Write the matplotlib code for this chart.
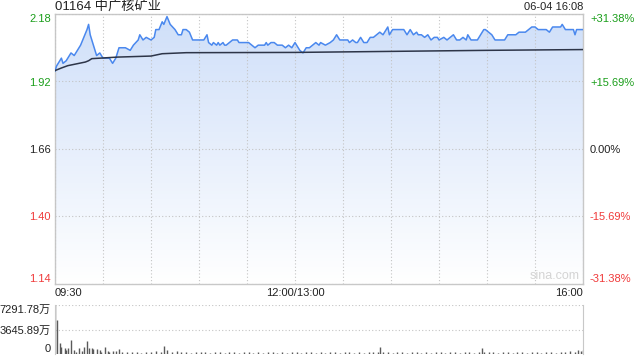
import numpy as np
import matplotlib
matplotlib.use("Agg")
import matplotlib.pyplot as plt
from matplotlib.colors import LinearSegmentedColormap

plt.rcParams['font.family'] = ['Liberation Sans', 'Noto Sans CJK SC', 'DejaVu Sans']

# ---------------- data ----------------
title = "01164 中广核矿业"
stamp = "06-04 16:08"
prev_close = 1.66

price_times = [
    "09:30", "09:31", "09:34", "09:35", "09:37", "09:40", "09:42", "09:44", "09:46", "09:48",
    "09:50", "09:51", "09:52", "09:54", "09:55", "09:56", "09:58", "10:00", "10:04", "10:06",
    "10:08", "10:10", "10:12", "10:14", "10:17", "10:19", "10:22", "10:23", "10:25", "10:27",
    "10:30", "10:32", "10:33", "10:35", "10:37", "10:38", "10:40", "10:42", "10:45", "10:47",
    "10:49", "10:50", "10:52", "10:54", "10:56", "11:00", "11:03", "11:05", "11:06", "11:08",
    "11:09", "11:11", "11:12", "11:13", "11:15", "11:16", "11:17", "11:19", "11:21", "11:24",
    "11:25", "11:31", "11:33", "11:35", "11:37", "11:41", "11:42", "11:43", "11:45", "11:47",
    "11:49", "11:52", "11:54", "11:56", "11:58", "12:00",
    "13:01", "13:03", "13:05", "13:07", "13:09", "13:11", "13:13", "13:15", "13:16", "13:19",
    "13:22", "13:24", "13:26", "13:28", "13:33", "13:34", "13:36", "13:38", "13:39", "13:41",
    "13:43", "13:45", "13:47", "13:49", "13:51", "13:53", "13:55", "13:57", "13:58", "13:59",
    "14:01", "14:03", "14:08", "14:10", "14:12", "14:14", "14:16", "14:17", "14:19", "14:21",
    "14:23", "14:25", "14:27", "14:29", "14:30", "14:33", "14:35", "14:37", "14:39", "14:41",
    "14:43", "14:45", "14:47", "14:48", "14:50", "14:54", "14:56", "14:58", "14:59", "15:01",
    "15:03", "15:05", "15:11", "15:13", "15:15", "15:18", "15:20", "15:22", "15:24", "15:26",
    "15:28", "15:30", "15:32", "15:37", "15:39", "15:41", "15:46", "15:47", "15:49", "15:54",
    "15:55", "15:56", "16:00",
]
price_values = [
    1.96, 1.98, 2.01, 1.99, 2.00, 2.03, 2.02, 2.04, 2.06, 2.09,
    2.12, 2.14, 2.10, 2.06, 2.04, 2.02, 2.03, 2.01, 2.01, 1.99,
    2.01, 2.05, 2.05, 2.05, 2.04, 2.06, 2.08, 2.10, 2.08, 2.09,
    2.08, 2.09, 2.12, 2.12, 2.15, 2.14, 2.17, 2.14, 2.12, 2.10,
    2.10, 2.12, 2.12, 2.11, 2.08, 2.08, 2.08, 2.10, 2.07, 2.06,
    2.07, 2.06, 2.07, 2.06, 2.07, 2.06, 2.06, 2.07, 2.08, 2.08,
    2.07, 2.07, 2.06, 2.05, 2.06, 2.06, 2.07, 2.06, 2.07, 2.07,
    2.06, 2.06, 2.05, 2.06, 2.05, 2.07,
    2.06, 2.04, 2.03, 2.05, 2.05, 2.06, 2.07, 2.06, 2.07, 2.06,
    2.07, 2.08, 2.10, 2.08, 2.08, 2.07, 2.08, 2.07, 2.07, 2.09,
    2.07, 2.07, 2.09, 2.09, 2.10, 2.11, 2.10, 2.12, 2.13, 2.10,
    2.12, 2.12, 2.12, 2.10, 2.12, 2.10, 2.11, 2.10, 2.10, 2.09,
    2.10, 2.08, 2.09, 2.09, 2.08, 2.09, 2.08, 2.09, 2.10, 2.08,
    2.08, 2.09, 2.08, 2.10, 2.08, 2.08, 2.10, 2.12, 2.12, 2.11,
    2.10, 2.08, 2.08, 2.10, 2.10, 2.10, 2.11, 2.11, 2.11, 2.12,
    2.13, 2.13, 2.12, 2.12, 2.11, 2.13, 2.13, 2.14, 2.12, 2.12,
    2.10, 2.12, 2.12,
]

avg_times = ["09:30", "09:34", "09:38", "09:49", "09:51", "09:53", "10:09", "10:30",
             "10:37", "10:52", "12:00", "14:00", "15:00", "16:00"]
avg_values = [1.962, 1.972, 1.981, 1.995, 2.000, 2.008, 2.014, 2.018,
              2.027, 2.031, 2.032, 2.036, 2.040, 2.043]

vol_times = [
    "09:30", "09:31", "09:33", "09:34", "09:36", "09:37", "09:38", "09:40", "09:42", "09:43",
    "09:45", "09:47", "09:48", "09:50", "09:51", "09:53", "09:54", "09:56", "09:58", "09:59",
    "10:01", "10:03", "10:04", "10:06", "10:08", "10:10", "10:12", "10:15", "10:18", "10:21",
    "10:24", "10:27", "10:30", "10:33", "10:36", "10:38", "10:40", "10:43", "10:46", "10:49",
    "10:52", "10:55", "10:58", "11:01", "11:04", "11:07", "11:10", "11:13", "11:16", "11:19",
    "11:22", "11:25", "11:28", "11:31", "11:34", "11:37", "11:40", "11:43", "11:46", "11:49",
    "11:52", "11:55", "11:58",
    "13:01", "13:04", "13:07", "13:10", "13:13", "13:16", "13:19", "13:22", "13:25", "13:28",
    "13:31", "13:34", "13:37", "13:40", "13:43", "13:46", "13:49", "13:52", "13:53", "13:55",
    "13:58", "14:01", "14:04", "14:07", "14:10", "14:13", "14:16", "14:19", "14:22", "14:25",
    "14:28", "14:31", "14:34", "14:37", "14:40", "14:43", "14:46", "14:49", "14:52", "14:55",
    "14:57", "14:58", "15:01", "15:04", "15:07", "15:10", "15:13", "15:16", "15:19", "15:22",
    "15:25", "15:28", "15:31", "15:34", "15:37", "15:40", "15:43", "15:46", "15:49", "15:52",
    "15:55", "15:57", "15:59", "16:00",
]
vol_values = [
    7291.78, 5060, 1690, 1090, 840, 595, 840, 2080, 595, 350,
    840, 500, 1090, 1930, 840, 840, 740, 740, 595, 350,
    1090, 500, 350, 500, 500, 740, 350, 300, 250, 350,
    200, 300, 250, 400, 300, 1190, 600, 350, 450, 300,
    250, 200, 350, 250, 300, 200, 250, 300, 200, 250,
    350, 200, 250, 300, 200, 250, 200, 300, 250, 200,
    250, 200, 300,
    250, 200, 300, 250, 200, 350, 200, 250, 300, 200,
    250, 300, 200, 250, 200, 300, 250, 350, 1000, 300,
    250, 200, 300, 250, 200, 250, 300, 200, 250, 200,
    300, 250, 200, 300, 250, 200, 250, 300, 200, 250,
    840, 350, 300, 250, 200, 300, 250, 200, 300, 250,
    200, 250, 300, 200, 250, 300, 200, 350, 300, 450,
    350, 550, 400, 600,
]
vol_max = 7291.78
vol_tick_values = [0, 3645.89, 7291.78]
vol_tick_labels = ["0", "3645.89万", "7291.78万"]

y_tick_values = [1.14, 1.40, 1.66, 1.92, 2.18]
y_pct_labels = ["-31.38%", "-15.69%", "0.00%", "+15.69%", "+31.38%"]
x_tick_labels = {"09:30": "09:30", "12:00": "12:00/13:00", "16:00": "16:00"}
grid_times = ["09:30", "10:00", "10:30", "11:00", "11:30", "12:00", "13:30",
              "14:00", "14:30", "15:00", "15:30", "16:00"]


def tmin(s):
    h, m = map(int, s.split(":"))
    t = h * 60 + m
    return t - 570 if t <= 720 else t - 780 + 150


px = np.array([tmin(t) for t in price_times], float)
py = np.array(price_values)
ax_ = np.array([tmin(t) for t in avg_times], float)
vx = np.array([tmin(t) for t in vol_times], float)
vy = np.array(vol_values)

GREEN = "#1a9e1a"
RED = "#f03a3a"
SPINE = "#c8c8c8"
GRID = "#c4c4c4"

fig = plt.figure(figsize=(6.4, 3.6), dpi=100)
W, H = 640, 360
ax = fig.add_axes([55 / W, 76 / H, 528 / W, 270 / H])
ymin, ymax = y_tick_values[0], y_tick_values[-1]
ax.set_xlim(0, 330)
ax.set_ylim(ymin, ymax)

# gradient fill under price line
cmap = LinearSegmentedColormap.from_list("g", ["#ffffff", "#cfdff9"])
grad = np.linspace(1, 0, 256).reshape(-1, 1)
poly = ax.fill_between(px, py, ymin, color="none", lw=0)
im = ax.imshow(grad, extent=[0, 330, ymin, ymax], aspect="auto", cmap=cmap,
               origin="upper", zorder=0, vmin=0, vmax=1)
im.set_clip_path(poly.get_paths()[0], transform=ax.transData)

ax.plot(px, py, color="#4a88ee", lw=1.1, zorder=4)
ax.plot(ax_, avg_values, color="#2d3548", lw=1.1, zorder=4)

# grid
ax.set_axisbelow(False)
ax.set_xticks([tmin(t) for t in grid_times])
ax.set_xticklabels([x_tick_labels.get(t, "") for t in grid_times])
xl = ax.get_xticklabels()
xl[0].set_ha("left")
xl[-1].set_ha("right")
ax.set_yticks(y_tick_values)
ax.set_yticklabels([f"{v:.2f}" for v in y_tick_values])
for lab, v in zip(ax.get_yticklabels(), y_tick_values):
    lab.set_color(GREEN if v > prev_close + 1e-9 else (RED if v < prev_close - 1e-9 else "#222222"))
ylabs = ax.get_yticklabels()
ylabs[0].set_va("bottom")
ylabs[-1].set_va("top")
ax.grid(True, color=GRID, lw=0.8, ls=(0, (1, 2)))
ax.tick_params(length=0, labelsize=8, pad=3, colors="#222222")
ax.tick_params(axis="y", pad=3)
for lab, v in zip(ax.get_yticklabels(), y_tick_values):
    lab.set_color(GREEN if v > prev_close + 1e-9 else (RED if v < prev_close - 1e-9 else "#222222"))
for s in ax.spines.values():
    s.set_color(SPINE)
    s.set_linewidth(1.0)

ax2 = ax.twinx()
ax2.set_ylim(ymin, ymax)
ax2.set_yticks(y_tick_values)
ax2.set_yticklabels(y_pct_labels)
ax2.tick_params(length=0, labelsize=8, pad=5)
for lab, v in zip(ax2.get_yticklabels(), y_tick_values):
    lab.set_color(GREEN if v > prev_close + 1e-9 else (RED if v < prev_close - 1e-9 else "#222222"))
r = ax2.get_yticklabels()
r[0].set_va("bottom")
r[-1].set_va("top")
for s in ax2.spines.values():
    s.set_visible(False)

ax.text(0.947, 0.028, "sina.com", transform=ax.transAxes, ha="center", va="center",
        fontsize=9, color="#d4d4d4", zorder=5)

# volume panel
av = fig.add_axes([55 / W, 6 / H, 528 / W, 49 / H])
av.set_xlim(0, 330)
av.set_ylim(0, vol_max)
av.vlines(vx, 0, vy, color="#5a5a5a", lw=1.0)
av.set_xticks([])
av.set_yticks(vol_tick_values)
av.set_yticklabels(vol_tick_labels)
vl = av.get_yticklabels()
vl[0].set_va("bottom")
vl[-1].set_va("top")
av.tick_params(length=0, labelsize=8, pad=3, colors="#222222")
av.grid(True, axis="y", color=GRID, lw=0.8, ls=(0, (1, 2)))
for k, s in av.spines.items():
    if k in ("top", "bottom"):
        s.set_visible(False)
    else:
        s.set_color(SPINE)

fig.text(55 / W, 1 - 7 / H, title, ha="left", va="center", fontsize=9.5, color="#222222")
fig.text(583 / W, 1 - 7 / H, stamp, ha="right", va="center", fontsize=8, color="#222222")

fig.savefig("out.png", dpi=100)
